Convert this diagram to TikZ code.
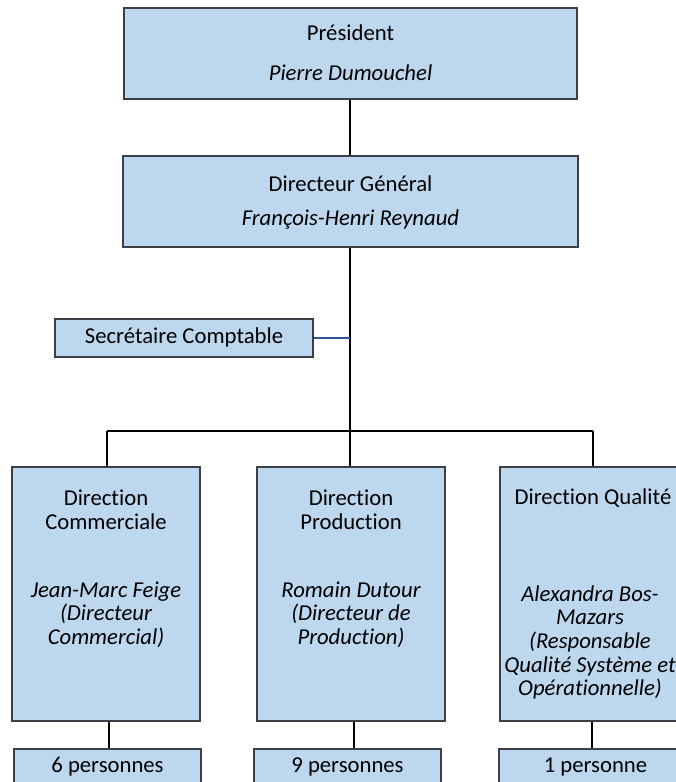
\documentclass[tikz,border=0pt]{standalone}
\usepackage{fontspec}
\setmainfont{Carlito}[Ligatures=NoCommon]
\definecolor{boxblue}{RGB}{189,215,238}
\definecolor{boxline}{RGB}{60,64,70}
\definecolor{seclink}{RGB}{47,85,151}
\tikzset{
  orgbox/.style={rectangle, draw=boxline, fill=boxblue, line width=1.2pt, inner sep=0pt},
  lbl/.style={align=center, inner sep=0pt, font=\fontsize{22.7}{23.6}\selectfont},
  link/.style={draw=black, line width=1.4pt},
  thicklink/.style={draw=black, line width=2.8pt},
  barlink/.style={draw=black, line width=2pt},
  seclinkstyle/.style={draw=seclink, line width=1.4pt}
}
\begin{document}
\begin{tikzpicture}[x=1pt,y=-1pt]
\useasboundingbox (0,0) rectangle (676,782);
\clip (0,0) rectangle (676,782);
% boxes
\node[orgbox, minimum width=453pt, minimum height=91pt] (pres) at (350.5,53.5) {};
\node[orgbox, minimum width=455pt, minimum height=91pt] (dg) at (350.5,201.5) {};
\node[orgbox, minimum width=258pt, minimum height=38pt] (sec) at (184,338) {};
\node[orgbox, minimum width=188pt, minimum height=254pt] (com) at (106,594) {};
\node[orgbox, minimum width=188pt, minimum height=254pt] (prod) at (351,594) {};
\node[orgbox, minimum width=192pt, minimum height=254pt] (qual) at (596,594) {};
\node[orgbox, minimum width=187pt, minimum height=51pt] (comb) at (107.5,774.5) {};
\node[orgbox, minimum width=187pt, minimum height=51pt] (prodb) at (347.5,774.5) {};
\node[orgbox, minimum width=193pt, minimum height=51pt] (qualb) at (595.5,774.5) {};
% texts
\node[lbl] (presT) at (350.5,33) {Président};
\node[lbl] (presN) at (350.5,73) {\itshape Pierre Dumouchel};
\node[lbl] (dgT) at (350.5,184) {Directeur Général};
\node[lbl] (dgN) at (350.5,219) {\itshape François-Henri Reynaud};
\node[lbl] (secT) at (184,337) {Secrétaire Comptable};
\node[lbl] (comT) at (106,509.5) {Direction\\Commerciale};
\node[lbl] (comN) at (106,614.5) {\itshape Jean-Marc Feige\\\itshape (Directeur\\\itshape Commercial)};
\node[lbl] (prodT) at (351,509.5) {Direction\\Production};
\node[lbl] (prodN) at (351,614.5) {\itshape Romain Dutour\\\itshape (Directeur de\\\itshape Production)};
\node[lbl] (qualT) at (593,498) {Direction Qualité};
\node[lbl] (qualN) at (590,642.5) {\itshape Alexandra Bos-\\\itshape Mazars\\\itshape (Responsable\\\itshape Qualité Système et\\\itshape Opérationnelle)};
\node[lbl] (combT) at (107.5,767) {6 personnes};
\node[lbl] (prodbT) at (347.5,767) {9 personnes};
\node[lbl] (qualbT) at (595.5,767) {1 personne};
% connectors
\coordinate (bar) at (350,431);
\draw[link] (pres.south -| 350,0) -- (dg.north -| 350,0);
\draw[thicklink] (dg.south -| 350,0) -- (bar);
\draw[seclinkstyle] (sec.east) -- (sec.east -| bar);
\draw[barlink] (107,431) -- (593,431);
\draw[link] (bar -| 107,0) -- (com.north -| 107,0);
\draw[link] (bar) -- (prod.north -| bar);
\draw[link] (bar -| 593,0) -- (qual.north -| 593,0);
\draw[link] (com.south -| 109,0) -- (comb.north -| 109,0);
\draw[link] (prod.south -| 354,0) -- (prodb.north -| 354,0);
\draw[link] (qual.south -| 592,0) -- (qualb.north -| 592,0);
\end{tikzpicture}
\end{document}
